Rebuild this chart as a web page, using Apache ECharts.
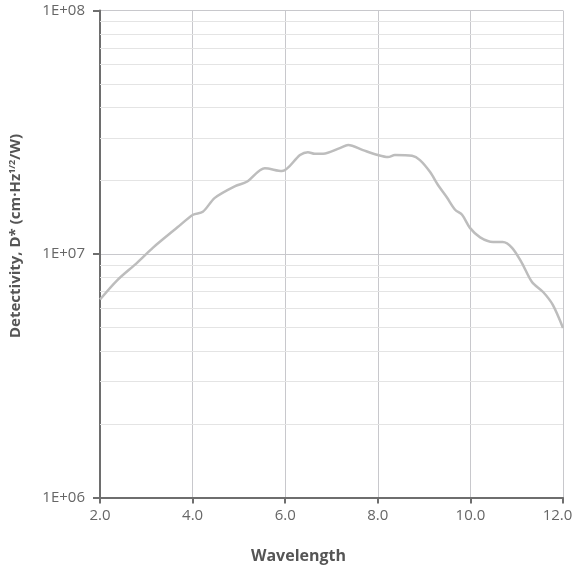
<!DOCTYPE html>
<html>
<head>
    <meta charset="utf-8">
    <title>Detectivity</title>
    <script src="https://cdn.jsdelivr.net/npm/echarts@6/dist/echarts.min.js"></script>
</head>
<style>
    html, body { margin: 0; padding: 0; background: #fff; }
    #main { width: 574px; height: 568px; }
</style>
<body>
<div id="main"></div>
<script>
    // wavelength (um) and detectivity values
    var wavelength = [2.00, 2.37, 2.80, 3.14, 3.68, 4.01, 4.22, 4.48, 4.92, 5.17, 5.56, 5.93, 6.32, 6.49, 6.64, 6.82,
        7.18, 7.36, 7.68, 8.00, 8.22, 8.37, 8.74, 8.91, 9.13, 9.30, 9.49, 9.67, 9.82, 9.99, 10.21, 10.49, 10.70,
        10.90, 11.11, 11.33, 11.57, 11.78, 12.00];
    var detectivity = [6.5e6, 7.8e6, 9.2e6, 1.06e7, 1.29e7, 1.45e7, 1.49e7, 1.70e7, 1.90e7, 1.98e7, 2.25e7, 2.19e7,
        2.55e7, 2.62e7, 2.58e7, 2.58e7, 2.72e7, 2.80e7, 2.67e7, 2.55e7, 2.50e7, 2.55e7, 2.53e7, 2.43e7, 2.17e7,
        1.92e7, 1.71e7, 1.52e7, 1.45e7, 1.28e7, 1.17e7, 1.12e7, 1.12e7, 1.06e7, 9.2e6, 7.67e6, 6.98e6, 6.18e6, 4.97e6];
    // minor grid lines of the log axis
    var minorLines = [2e6, 3e6, 4e6, 5e6, 6e6, 7e6, 8e6, 9e6, 2e7, 3e7, 4e7, 5e7, 6e7, 7e7, 8e7, 9e7];

    var pts = [];
    for (var i = 0; i < wavelength.length; i++) {
        pts.push([wavelength[i], detectivity[i]]);
    }
    var marks = [];
    for (var j = 0; j < minorLines.length; j++) {
        marks.push({yAxis: minorLines[j]});
    }

    var myChart = echarts.init(document.getElementById('main'));
    var option = {
        animation: false,
        textStyle: {fontFamily: 'Open Sans'},
        grid: {left: 100, right: 11, top: 10.5, bottom: 70.5, containLabel: false, outerBoundsMode: 'none'},
        xAxis: {
            type: 'value', min: 2, max: 12, interval: 2,
            name: 'Wavelength', nameLocation: 'middle', nameGap: 51,
            nameTextStyle: {fontSize: 16, fontWeight: 'bold', color: '#555', padding: [0, 66, 0, 0]},
            axisLine: {show: true, lineStyle: {color: '#6e6e6e', width: 2}},
            axisTick: {show: true, length: 6, lineStyle: {color: '#6e6e6e', width: 2}},
            axisLabel: {fontSize: 15, color: '#666', margin: 11,
                formatter: function (v) {
                    // last label sits a bit left of its tick, as in the original
                    return v === 12 ? '{last|' + v.toFixed(1) + '}' : v.toFixed(1);
                },
                rich: {last: {fontSize: 15, color: '#666', padding: [0, 11, 0, 0]}}
            },
            splitLine: {show: true, lineStyle: {color: '#c8c8cc', width: 1}}
        },
        yAxis: {
            type: 'log', logBase: 10, min: 1e6, max: 1e8, splitNumber: 2,
            name: 'Detectivity, D* (cm·Hz{sup|1/2}/W)', nameLocation: 'middle', nameGap: 76,
            nameTextStyle: {fontSize: 15, fontWeight: 'bold', color: '#555', padding: [0, 0, 0, 36],
                rich: {sup: {fontSize: 9, fontWeight: 'bold', color: '#555', verticalAlign: 'top', padding: [0, 0, 7, 0]}}},
            axisLine: {show: true, lineStyle: {color: '#6e6e6e', width: 2}},
            axisTick: {show: true, length: 7, lineStyle: {color: '#6e6e6e', width: 2}},
            axisLabel: {fontSize: 15, color: '#666', margin: 15, formatter: function (v) {
                var e = Math.round(Math.log10(v));
                return '1E+' + (e < 10 ? '0' + e : e);
            }},
            splitLine: {show: true, lineStyle: {color: '#c8c8cc', width: 1}}
        },
        series: [{
            type: 'line', data: pts, smooth: 0.3, showSymbol: false,
            lineStyle: {color: '#bdbdbd', width: 2.5},
            z: 3,
            markLine: {
                silent: true, symbol: 'none', animation: false,
                label: {show: false},
                lineStyle: {type: 'solid', color: '#e4e4e4', width: 1},
                z: 1,
                data: marks
            }
        }]
    };
    myChart.setOption(option);
</script>
</body>
</html>
